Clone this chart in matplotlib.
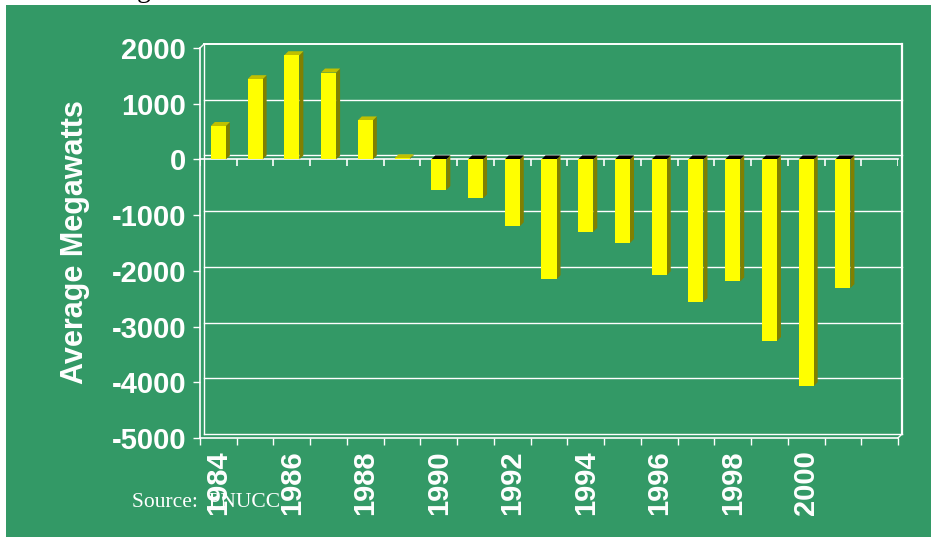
import numpy as np
from matplotlib import pyplot as plt
from matplotlib.patches import Polygon

# data
years = list(range(1984, 2003))
values = [600, 1440, 1870, 1560, 700, 20, -550, -700, -1200, -2150,
          -1300, -1500, -2080, -2560, -2190, -3260, -4070, -2310, None]
tick_labels = [str(y) if y % 2 == 0 and y <= 2000 else '' for y in years]
yticks = [2000, 1000, 0, -1000, -2000, -3000, -4000, -5000]

GREEN = '#339966'
YELLOW = '#FFFF00'
SIDE = '#808000'
TOP = '#C0C000'

W, H = 931, 537
fig = plt.figure(figsize=(W / 100, H / 100), dpi=100)
fig.patch.set_facecolor('white')
bg = fig.add_axes([6 / W, 0, 1 - 6 / W, 1 - 5 / H], zorder=-1)
bg.set_facecolor(GREEN)
bg.set_xticks([])
bg.set_yticks([])
for s in bg.spines.values():
    s.set_visible(False)

# front face of the plot area, in pixels
left, right, top, bottom = 200, 898, 48, 438
ax = fig.add_axes([left / W, 1 - bottom / H, (right - left) / W, (bottom - top) / H], zorder=1)
ax.set_facecolor('none')
n = len(years)
ax.set_xlim(-0.5, n - 0.5)
ax.set_ylim(-5000, 2000)

# pixel -> data helpers for the fake 3d depth
px_x = n / (right - left)
px_y = 7000 / (bottom - top)
ddx, ddy = 4 * px_x, 4 * px_y

# back wall grid
for v in yticks:
    ax.plot([-0.5 + ddx, n - 0.5 + ddx], [v + ddy, v + ddy], color='white',
            lw=1.4 if v == 2000 else 1.0, clip_on=False, zorder=1)
ax.plot([n - 0.5 + ddx] * 2, [-5000 + ddy, 2000 + ddy], color='white', lw=1.6,
        clip_on=False, zorder=1)
ax.plot([-0.5 + ddx] * 2, [-5000 + ddy, 2000 + ddy], color='white', lw=1.0,
        clip_on=False, zorder=1)
# floor edges
ax.plot([-0.5, -0.5 + ddx], [2000, 2000 + ddy], color='white', lw=1.0, clip_on=False)
ax.plot([n - 0.5, n - 0.5 + ddx], [-5000, -5000 + ddy], color='white', lw=1.0, clip_on=False)

# front zero axis with ticks between categories
ax.plot([-0.5, n - 0.5], [0, 0], color='white', lw=1.2, zorder=2, clip_on=False)
bounds = np.arange(n + 1) - 0.5
ax.vlines(bounds, -7 * px_y, 0, color='white', lw=1.2, zorder=2)

# bars
w = 0.41
xs = np.arange(n)
vals = np.array([v if v is not None else 0 for v in values], dtype=float)
ax.bar(xs, vals, width=w, color=YELLOW, zorder=4)
for x, v in zip(xs, values):
    if v is None:
        continue
    side = [(x + w / 2, 0), (x + w / 2 + ddx, ddy), (x + w / 2 + ddx, v + ddy), (x + w / 2, v)]
    ax.add_patch(Polygon(side, closed=True, color=SIDE, zorder=3, lw=0))
    cap = max(v, 0)
    topf = [(x - w / 2, cap), (x + w / 2, cap), (x + w / 2 + ddx, cap + ddy), (x - w / 2 + ddx, cap + ddy)]
    ax.add_patch(Polygon(topf, closed=True, color=TOP if v > 0 else 'black', zorder=3, lw=0))

# axes styling
for s in ['top', 'right']:
    ax.spines[s].set_visible(False)
for s in ['left', 'bottom']:
    ax.spines[s].set_color('white')
    ax.spines[s].set_linewidth(1.2)
ax.set_yticks(yticks)
ax.set_yticklabels([str(v) for v in yticks])
ax.tick_params(axis='y', colors='white', length=5, width=1, pad=5,
               labelsize=21)
ax.set_xticks(xs)
ax.set_xticklabels(tick_labels, rotation=90, va='top', ha='center')
ax.tick_params(axis='x', which='major', length=0, pad=9, colors='white', labelsize=21)
ax.set_xticks(bounds, minor=True)
ax.tick_params(axis='x', which='minor', length=5, width=1, color='white')
for lab in ax.get_yticklabels() + ax.get_xticklabels():
    lab.set_fontfamily('Liberation Sans')
    lab.set_fontweight('bold')

fig.text(75 / W, 1 - 242 / H, 'Average Megawatts', rotation=90, ha='center', va='center',
         color='white', fontsize=22, fontweight='bold', family='Liberation Sans')
fig.text(132 / W, 1 - 507 / H, 'Source:  PNUCC', ha='left', va='baseline',
         color='white', fontsize=15.5, family='Liberation Serif')
# descender of a title that is cut off above the frame
fig.text(137 / W, 1 + 3 / H, 'g', ha='left', va='baseline', color='black',
         fontsize=20, family='Liberation Serif')

fig.savefig('out.png', dpi=100)
